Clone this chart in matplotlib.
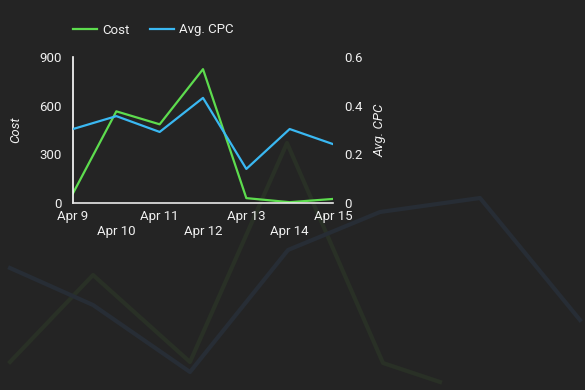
import matplotlib
matplotlib.use("Agg")
import matplotlib.pyplot as plt

plt.rcParams['font.family'] = ['Roboto', 'DejaVu Sans']

dates = ["Apr 9", "Apr 10", "Apr 11", "Apr 12", "Apr 13", "Apr 14", "Apr 15"]
cost = [60, 565, 485, 825, 30, 5, 25]
avg_cpc = [0.304, 0.357, 0.292, 0.432, 0.140, 0.304, 0.242]

# faint decorative lines in the background
bg_green = [28, 115, 28, 247, 27, 8]
bg_blue = [122, 85, 18, 140, 178, 192, 70]

BG = "#242424"
GREEN = "#5ddc4e"
BLUE = "#3ab8f2"
TXT = "#f0f0f0"

fig = plt.figure(figsize=(5.85, 3.9), dpi=100, facecolor=BG)

# background decoration
bg = fig.add_axes([0, 0, 1, 1])
bg.set_facecolor(BG)
bg.plot([10, 93, 190, 287, 383, 440], bg_green, color="#293026", lw=3)
bg.plot([10, 93, 190, 288, 380, 480, 580], bg_blue, color="#272d35", lw=3)
bg.set_xlim(0, 585)
bg.set_ylim(0, 390)
bg.axis("off")

# main chart: left 73px, right 333px, bottom 203px, top 57px
ax = fig.add_axes([73 / 585, (390 - 203) / 390, 260 / 585, 146 / 390])
ax.patch.set_alpha(0)
x = range(len(dates))
l1, = ax.plot(x, cost, color=GREEN, lw=1.6, label="Cost")
ax.set_ylim(0, 900)
ax.set_xlim(0, len(dates) - 1)
ax.set_yticks([0, 300, 600, 900])
ax.set_yticklabels(["0", "300", "600", "900"])
ax.set_ylabel("Cost", color=TXT, fontsize=9.5, style="italic", labelpad=12)

ax2 = ax.twinx()
l2, = ax2.plot(x, avg_cpc, color=BLUE, lw=1.6, label="Avg. CPC")
ax2.set_ylim(0, 0.6)
ax2.set_yticks([0, 0.2, 0.4, 0.6])
ax2.set_yticklabels(["0", "0.2", "0.4", "0.6"])
ax2.set_ylabel("Avg. CPC", color=TXT, fontsize=9.5, style="italic", labelpad=8)

ax.set_xticks(list(x))
ax.set_xticklabels([d if i % 2 == 0 else "\n" + d for i, d in enumerate(dates)])

for a in (ax, ax2):
    for s in a.spines.values():
        s.set_visible(False)
    a.tick_params(length=0, colors=TXT, labelsize=9.5)
ax.spines["left"].set_visible(True)
ax.spines["left"].set_color("#ffffff")
ax.spines["bottom"].set_visible(True)
ax.spines["bottom"].set_color("#e8e8e8")
ax.spines["left"].set_linewidth(1.2)
ax.spines["bottom"].set_linewidth(1.2)
ax.tick_params(axis="y", pad=8)
ax.tick_params(axis="x", pad=5)
ax2.tick_params(axis="y", pad=8)

leg = fig.legend(handles=[l1, l2], loc="center left", bbox_to_anchor=(61 / 585, 1 - 30 / 390),
                 ncol=2, frameon=False, fontsize=9.5, handlelength=1.8, handletextpad=0.4,
                 columnspacing=1.6, labelcolor=TXT)

fig.savefig("out.png", dpi=100, facecolor=BG)
